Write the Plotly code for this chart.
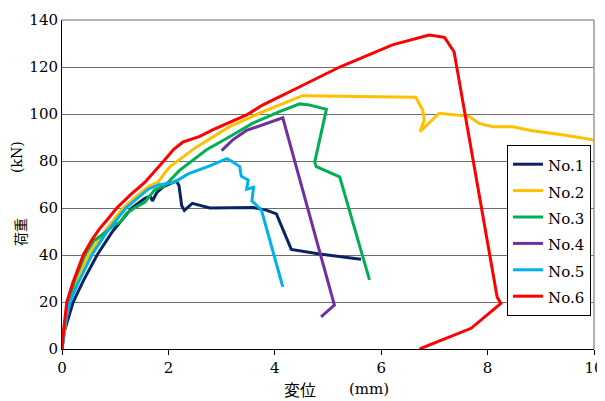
import plotly.graph_objects as go

names = ["No.1", "No.2", "No.3", "No.4", "No.5", "No.6"]
colors = ["#0A2463", "#FFC000", "#00B050", "#7030A0", "#00B0F0", "#FF0000"]

x1 = [0, 0.05, 0.21, 0.4, 0.66, 0.95, 1.31, 1.55, 1.66, 1.7, 1.78, 1.9, 2.15, 2.2, 2.25, 2.3, 2.45, 2.78, 3.59, 3.84, 4.03, 4.31, 4.84, 5.22, 5.62]
y1 = [0, 8, 20, 29, 40, 50, 60, 64, 65, 63, 66.5, 69, 71.5, 69.5, 61, 59, 62, 60, 60.2, 59.1, 57.5, 42.4, 40.4, 39.3, 38.2]

x2 = [0, 0.04, 0.12, 0.3, 0.5, 0.8, 1.15, 1.4, 1.62, 1.74, 1.8, 1.9, 2.03, 2.53, 3.15, 3.78, 4.33, 4.52, 6.65, 6.78, 6.81, 6.73, 7.09, 7.65, 7.84, 8.1, 8.47, 8.84, 9.47, 10]
y2 = [0, 6, 20, 31, 40, 50, 60, 65, 69, 70.5, 70.8, 74, 77.6, 86, 94.6, 101, 106, 107.8, 107.1, 101.7, 97.4, 92.5, 100.3, 99, 96, 94.6, 94.6, 92.9, 91, 88.9]

x3 = [0, 0.04, 0.12, 0.25, 0.43, 0.6, 0.75, 0.93, 1.0, 1.1, 1.21, 1.4, 1.56, 1.74, 1.93, 2.21, 2.71, 3.15, 3.58, 4.09, 4.47, 4.65, 4.97, 4.75, 4.78, 5.22, 5.78]
y3 = [0, 8, 20, 30, 40, 46, 48.5, 52, 53, 54, 57.7, 60.5, 62.5, 67.7, 69.5, 76, 84.7, 90.3, 96, 101, 104.3, 103.8, 102, 79.5, 77.6, 73.3, 29.4]

x4 = [3.0, 3.15, 3.21, 3.47, 3.84, 4.15, 5.12, 4.87]
y4 = [84.4, 88, 89, 93, 96, 98.4, 18.7, 13.7]

x5 = [0, 0.05, 0.15, 0.3, 0.56, 0.85, 1.2, 1.45, 1.62, 1.81, 2.12, 2.37, 2.74, 3.1, 3.22, 3.34, 3.37, 3.5, 3.47, 3.6, 3.57, 3.65, 3.75, 4.15]
y5 = [0, 10, 20, 28, 40, 50, 60, 65, 68, 69.8, 71, 74.5, 77.6, 81, 79.5, 77.6, 73.5, 71.9, 68, 68.8, 63, 61.3, 59, 26.5]

x6 = [0, 0.03, 0.09, 0.2, 0.3, 0.4, 0.55, 0.7, 0.85, 1.03, 1.28, 1.56, 1.9, 2.1, 2.27, 2.59, 2.83, 3.15, 3.47, 3.77, 4.05, 4.47, 5.22, 5.8, 6.21, 6.9, 7.19, 7.37, 8.18, 8.25, 7.69, 6.72]
y6 = [0, 8, 20, 28, 34, 40, 46, 51, 55, 60, 65.5, 71, 79.7, 85, 88, 90.5, 93.2, 96.5, 99.6, 103.8, 107, 111.6, 120, 125.5, 129.4, 133.6, 132.6, 126.5, 22, 19.4, 8.8, 0]

xs = [x1, x2, x3, x4, x5, x6]
ys = [y1, y2, y3, y4, y5, y6]

x_ticks = [0, 2, 4, 6, 8, 10]
y_ticks = [0, 20, 40, 60, 80, 100, 120, 140]

serif = "DejaVu Serif"
cjk = "Noto Sans CJK JP"

# page body has an 8px default margin; figure placed at (8, 8)
W, H = 597, 393
L, T = 54, 12
PR, PB = 594 - 8, 349 - 8  # plot right / bottom in figure pixels
R, B = W - PR, H - PB
PW, PH = PR - L, PB - T


def px(x):
    return (x - 8 - L) / PW


def py(y):
    return (PB - (y - 8)) / PH


fig = go.Figure()
for n, c, xv, yv in zip(names, colors, xs, ys):
    fig.add_trace(go.Scatter(x=xv, y=yv, mode="lines",
                             name='<span style="font-size:15px">' + n + '</span>',
                             line=dict(color=c, width=3)))

fig.update_layout(
    width=W, height=H,
    margin=dict(l=L, r=R, t=T, b=B, autoexpand=False),
    paper_bgcolor="white", plot_bgcolor="white",
    font=dict(family=serif, size=15, color="black"),
    showlegend=True,
    legend=dict(x=px(507), y=py(145), xanchor="left", yanchor="top",
                bordercolor="black", borderwidth=1, bgcolor="white",
                font=dict(family=serif, size=18, color="black"),
                tracegroupgap=0),
    xaxis=dict(range=[0, 10], tickvals=x_ticks, ticktext=[str(v) for v in x_ticks],
               showgrid=False, zeroline=False, showline=True, linecolor="black",
               linewidth=1, ticks="outside", ticklen=5, tickcolor="black",
               automargin=False,
               tickfont=dict(family=serif, size=15)),
    yaxis=dict(range=[0, 140], tickvals=y_ticks, ticktext=[str(v) for v in y_ticks],
               showgrid=True, gridcolor="#6e6e6e", gridwidth=1, zeroline=False,
               showline=True, linecolor="black", linewidth=1, ticks="",
               automargin=False,
               tickfont=dict(family=serif, size=15)),
    shapes=[
        dict(type="line", xref="paper", yref="paper", x0=1, x1=1, y0=0, y1=1,
             line=dict(color="#9a9a9a", width=1.5)),
        dict(type="line", xref="paper", yref="paper", x0=0, x1=1, y0=1, y1=1,
             line=dict(color="#9a9a9a", width=1.5)),
    ],
    annotations=[
        dict(text="荷重", xref="paper", yref="paper", textangle=-90, showarrow=False,
             x=px(20), y=py(232), xanchor="center", yanchor="middle",
             font=dict(family=cjk, size=14, color="black")),
        dict(text="(kN)", xref="paper", yref="paper", textangle=-90, showarrow=False,
             x=px(17), y=py(157), xanchor="center", yanchor="middle",
             font=dict(family=serif, size=14, color="black")),
        dict(text="変位", xref="paper", yref="paper", showarrow=False,
             x=px(300), y=py(389), xanchor="center", yanchor="middle",
             font=dict(family=cjk, size=16, color="black")),
        dict(text="(mm)", xref="paper", yref="paper", showarrow=False,
             x=px(369), y=py(389), xanchor="center", yanchor="middle",
             font=dict(family=serif, size=15, color="black")),
    ],
)

fig.write_html("out.html")
